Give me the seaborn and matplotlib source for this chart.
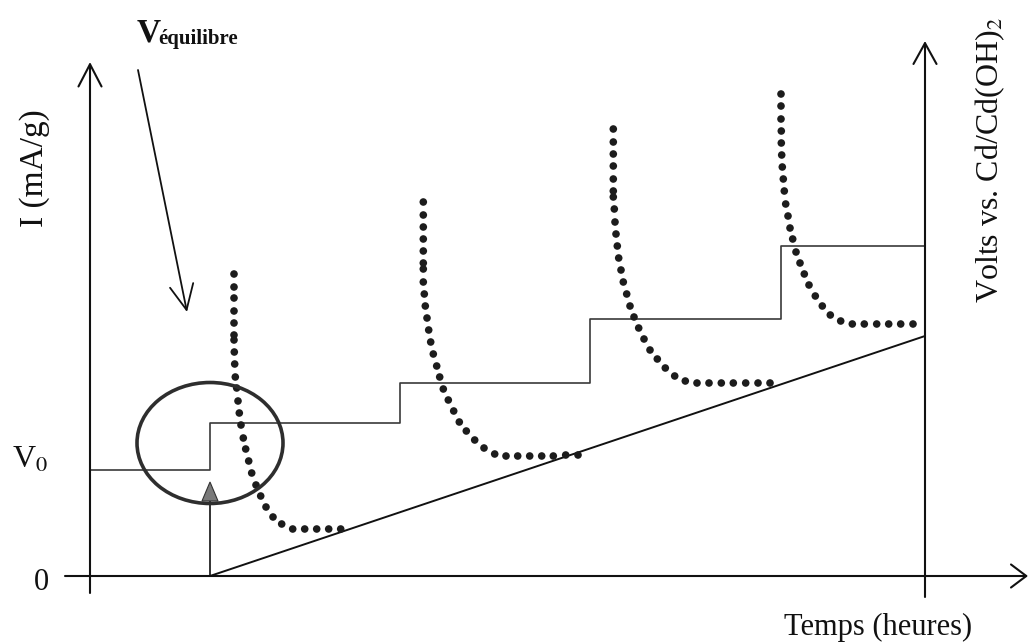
import matplotlib
matplotlib.use("Agg")
import matplotlib.pyplot as plt
from matplotlib.patches import Ellipse, Polygon, FancyArrowPatch, ArrowStyle
import pandas as pd
import seaborn as sns

# Applied current I (mA/g): switching times (h) and plateau levels
step_times = [0.0, 1.2, 3.1, 5.0, 6.91, 8.35]
step_levels = [1.06, 1.53, 1.93, 2.57, 3.30, 3.30]

# Linear voltage ramp starting at the first step
ramp_t = [1.2, 8.35]
ramp_v = [0.0, 2.40]

# Pulse marker at the first step and triangle head
pulse_t = [1.2, 1.2]
pulse_v = [0.0, 0.75]

# Voltage relaxation after each current step (dotted curves)
relax1_t = [1.44, 1.44, 1.44, 1.44, 1.44, 1.44, 1.44, 1.443, 1.447, 1.453,
            1.467, 1.48, 1.493, 1.51, 1.533, 1.557, 1.587, 1.617, 1.66, 1.707,
            1.76, 1.83, 1.917, 2.027, 2.147, 2.267, 2.387, 2.507]
relax1_v = [3.02, 2.89, 2.78, 2.65, 2.53, 2.41, 2.36, 2.24, 2.12, 1.99,
            1.88, 1.75, 1.63, 1.51, 1.38, 1.27, 1.15, 1.03, 0.91, 0.80,
            0.69, 0.59, 0.52, 0.47, 0.47, 0.47, 0.47, 0.47]

relax2_t = [3.333, 3.333, 3.333, 3.333, 3.333, 3.333, 3.333, 3.333, 3.343, 3.353,
            3.37, 3.387, 3.407, 3.433, 3.467, 3.497, 3.533, 3.583, 3.637, 3.693,
            3.763, 3.847, 3.94, 4.047, 4.16, 4.277, 4.397, 4.517, 4.633, 4.757, 4.88]
relax2_v = [3.74, 3.61, 3.49, 3.37, 3.25, 3.13, 3.07, 2.94, 2.82, 2.70,
            2.58, 2.46, 2.34, 2.22, 2.10, 1.99, 1.87, 1.76, 1.65, 1.54,
            1.45, 1.36, 1.28, 1.22, 1.20, 1.20, 1.20, 1.20, 1.20, 1.21, 1.21]

relax3_t = [5.233, 5.233, 5.233, 5.233, 5.233, 5.233, 5.233, 5.243, 5.25, 5.26,
            5.273, 5.287, 5.31, 5.333, 5.367, 5.40, 5.44, 5.487, 5.54, 5.60,
            5.673, 5.753, 5.847, 5.953, 6.07, 6.19, 6.313, 6.433, 6.557, 6.68, 6.80]
relax3_v = [4.47, 4.34, 4.22, 4.10, 3.97, 3.85, 3.79, 3.67, 3.54, 3.42,
            3.30, 3.18, 3.06, 2.94, 2.82, 2.70, 2.59, 2.48, 2.37, 2.26,
            2.17, 2.08, 2.00, 1.95, 1.93, 1.93, 1.93, 1.93, 1.93, 1.93, 1.93]

relax4_t = [6.91, 6.91, 6.91, 6.913, 6.913, 6.917, 6.923, 6.933, 6.943, 6.957,
            6.98, 7.00, 7.027, 7.06, 7.10, 7.143, 7.19, 7.253, 7.323, 7.403,
            7.507, 7.623, 7.743, 7.867, 7.987, 8.107, 8.23]
relax4_v = [4.82, 4.70, 4.57, 4.45, 4.33, 4.21, 4.09, 3.97, 3.85, 3.72,
            3.60, 3.48, 3.37, 3.24, 3.13, 3.02, 2.91, 2.80, 2.70, 2.61,
            2.55, 2.52, 2.52, 2.52, 2.52, 2.52, 2.52]

sns.set_theme(style="white")
plt.rcParams["font.family"] = ["Liberation Serif", "DejaVu Serif"]
plt.rcParams["mathtext.fontset"] = "stix"

fig = plt.figure(figsize=(10.32, 6.43), dpi=100)
ax = fig.add_axes([0, 0, 1, 1])
ax.set_xlim(-0.90, 9.42)
ax.set_ylim(-0.67, 5.76)
ax.axis("off")

ink = "#111111"

# Current steps
steps = pd.DataFrame({"t": step_times, "I": step_levels})
sns.lineplot(data=steps, x="t", y="I", ax=ax, drawstyle="steps-post",
             color="#3a3a3a", linewidth=1.2, sort=False, estimator=None)

# Voltage ramp
ramp = pd.DataFrame({"t": ramp_t, "V": ramp_v})
sns.lineplot(data=ramp, x="t", y="V", ax=ax, color=ink, linewidth=1.4,
             sort=False, estimator=None)

# Pulse stem
pulse = pd.DataFrame({"t": pulse_t, "V": pulse_v})
sns.lineplot(data=pulse, x="t", y="V", ax=ax, color=ink, linewidth=1.2,
             sort=False, estimator=None)
ax.add_patch(Polygon([(1.12, 0.75), (1.28, 0.75), (1.2, 0.94)], closed=True,
                     facecolor="#7a7a7a", edgecolor="#333333", linewidth=0.8, zorder=4))

# Relaxation dots
relax = pd.concat([
    pd.DataFrame({"t": relax1_t, "V": relax1_v}),
    pd.DataFrame({"t": relax2_t, "V": relax2_v}),
    pd.DataFrame({"t": relax3_t, "V": relax3_v}),
    pd.DataFrame({"t": relax4_t, "V": relax4_v}),
], ignore_index=True)
sns.scatterplot(data=relax, x="t", y="V", ax=ax, color="#1c1c1c", s=30,
                edgecolor="none", zorder=5)

# Highlight circle around the first step
ax.add_patch(Ellipse((1.20, 1.33), 1.46, 1.21, fill=False, edgecolor="#2e2e2e",
                     linewidth=2.6, zorder=6))


def arrow(p0, p1, hl, hw, lw=1.5):
    ax.add_patch(FancyArrowPatch(p0, p1, arrowstyle=ArrowStyle("->", head_length=hl, head_width=hw),
                                 mutation_scale=1, shrinkA=0, shrinkB=0,
                                 color=ink, linewidth=lw, zorder=3))


# Axes drawn as arrows
arrow((0.0, -0.17), (0.0, 5.14), 16, 8.3)
arrow((8.35, -0.21), (8.35, 5.35), 15, 8.3)
arrow((-0.25, 0.0), (9.38, 0.0), 11, 8.3)

# Equilibrium voltage pointer
arrow((0.48, 5.06), (0.97, 2.64), 18, 8.5, lw=1.3)

# Labels
ax.text(-0.55, 4.08, "I (mA/g)", rotation=90, ha="center", va="center",
        fontsize=24, color=ink)
ax.text(9.00, 4.16, "Volts vs. Cd/Cd(OH)$_2$", rotation=90, ha="center", va="center",
        fontsize=23, color=ink)
ax.text(7.88, -0.51, "Temps (heures)", ha="center", va="center", fontsize=22, color=ink)
ax.text(-0.78, 1.08, "V$_0$", ha="left", va="baseline", fontsize=23, color=ink)
ax.text(-0.49, -0.06, "0", ha="center", va="center", fontsize=22, color=ink)
ax.text(0.47, 5.34, "V", ha="left", va="baseline", fontsize=24, fontweight="bold", color=ink)
ax.text(0.68, 5.32, "équilibre", ha="left", va="baseline", fontsize=15,
        fontweight="bold", color=ink)

fig.savefig("out.png", dpi=100, facecolor="white")
